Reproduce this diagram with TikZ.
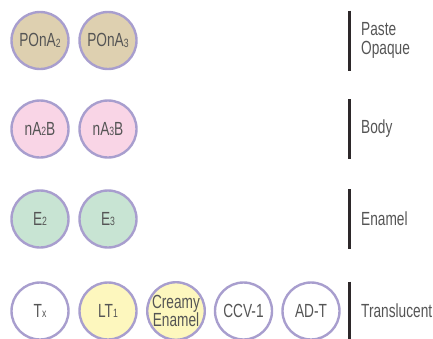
\documentclass[tikz,border=0pt]{standalone}
\usepackage{fontspec}
\newfontfamily\narrowsans{Liberation Sans}[FakeStretch=0.72]
\definecolor{ringlav}{RGB}{168, 158, 206}
\definecolor{pastetan}{RGB}{222, 208, 176}
\definecolor{bodypink}{RGB}{249, 213, 230}
\definecolor{enamelgreen}{RGB}{200, 228, 211}
\definecolor{creamyellow}{RGB}{253, 247, 190}
\definecolor{labelgrey}{RGB}{85, 85, 85}
\definecolor{bardark}{RGB}{45, 40, 42}
\usetikzlibrary{positioning}
\newcommand{\lowdigit}[1]{\raisebox{-0.3pt}{\fontsize{12}{12}\selectfont #1}}

\begin{document}
\begin{tikzpicture}[x=1pt, y=-1pt,
  shade/.style={circle, draw=ringlav, fill=#1, line width=2.4pt, minimum size=57pt,
    inner sep=0pt, align=center, text=labelgrey, font=\narrowsans\fontsize{19}{17}\selectfont},
  shade/.default=white,
  group/.style={anchor=west, align=left, text=labelgrey, inner sep=0pt,
    font=\narrowsans\fontsize{19}{18.5}\selectfont},
  bar/.style={draw=bardark, line width=2.5pt},
]
  \useasboundingbox (0,0) rectangle (433,338);

  % paste opaque
  \node[shade=pastetan] (pona2) at (40,40.5) {POnA\lowdigit{2}};
  \node[shade=pastetan] (pona3) at (108,40.5) {POnA\lowdigit{3}};
  \draw[bar] (349.5,10.5) -- ++(0,60);
  \node[group] (paste) at (361,40.5) {Paste\\Opaque};

  % body
  \node[shade=bodypink] (na2b) at (40,129) {nA\lowdigit{2}B};
  \node[shade=bodypink] (na3b) at (108,129) {nA\lowdigit{3}B};
  \draw[bar] (349.5,99) -- ++(0,60);
  \node[group] (body) at (361,129) {Body};

  % enamel
  \node[shade=enamelgreen] (e2) at (40,219) {E\lowdigit{2}};
  \node[shade=enamelgreen] (e3) at (108,219) {E\lowdigit{3}};
  \draw[bar] (349.5,189) -- ++(0,60);
  \node[group] (enamel) at (361,219) {Enamel};

  % translucent
  \node[shade] (tx) at (40,311) {T\lowdigit{x}};
  \node[shade=creamyellow] (lt1) at (108,311) {LT\lowdigit{1}};
  \node[shade=creamyellow] (creamy) at (176,311) {Creamy\\Enamel};
  \node[shade] (ccv) at (243.5,311) {CCV-1};
  \node[shade] (adt) at (311,311) {AD-T};
  \draw[bar] (349.5,281.5) -- ++(0,60);
  \node[group] (transl) at (361,311) {Translucent};
\end{tikzpicture}
\end{document}
